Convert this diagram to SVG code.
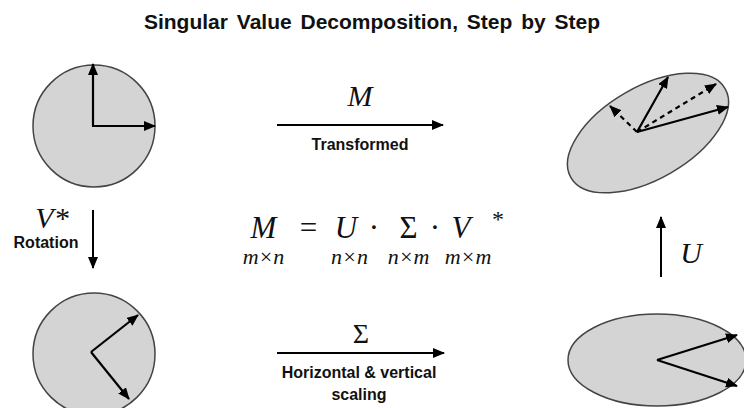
<svg xmlns="http://www.w3.org/2000/svg" width="744" height="408" viewBox="0 0 744 408">
<defs>
<marker id="ah" markerUnits="userSpaceOnUse" markerWidth="12" markerHeight="10" refX="11" refY="5" orient="auto">
<path d="M0,0 L12,5 L0,10 z" fill="#000"/>
</marker>
</defs>
<style>
.shape{fill:#d4d4d4;stroke:#444;stroke-width:1.5}
.vec{stroke:#000;stroke-width:2.2;fill:none;marker-end:url(#ah)}
.dash{stroke-dasharray:5,4}
.arr{stroke:#000;stroke-width:2;fill:none;marker-end:url(#ah)}
.lbl{font-family:"Liberation Sans",Arial,sans-serif;font-weight:bold;font-size:16px;fill:#111;text-anchor:middle}
.math{font-family:"Liberation Serif","Times New Roman",serif;font-style:italic;fill:#111;text-anchor:middle}
.up{font-family:"Liberation Serif","Times New Roman",serif;fill:#111;text-anchor:middle}
</style>
<rect width="744" height="408" fill="#fff"/>
<text x="372" y="29" font-family="'Liberation Sans',Arial,sans-serif" font-weight="bold" font-size="21" word-spacing="3" fill="#111" text-anchor="middle">Singular Value Decomposition, Step by Step</text>

<g id="circle-top">
<circle class="shape" cx="94" cy="126" r="61"/>
<line class="vec" x1="93" y1="126" x2="93" y2="64"/>
<line class="vec" x1="92" y1="126" x2="155" y2="126"/>
</g>

<g id="circle-bottom">
<circle class="shape" cx="94" cy="354" r="61"/>
<line class="vec" x1="91" y1="352" x2="138" y2="315"/>
<line class="vec" x1="91" y1="352" x2="129" y2="399"/>
</g>

<g id="ellipse-top">
<ellipse class="shape" cx="648" cy="133" rx="89" ry="46" transform="rotate(-30 648 133)"/>
<line class="vec dash" x1="637" y1="132" x2="610" y2="106"/>
<line class="vec dash" x1="637" y1="132" x2="716" y2="84"/>
<line class="vec" x1="637" y1="132" x2="668" y2="77"/>
<line class="vec" x1="637" y1="132" x2="728" y2="107"/>
</g>

<g id="ellipse-bottom">
<ellipse class="shape" cx="657" cy="360" rx="89" ry="46"/>
<line class="vec" x1="657" y1="360" x2="737" y2="335"/>
<line class="vec" x1="657" y1="360" x2="737" y2="386"/>
</g>

<g id="connectors">
<line class="arr" x1="277" y1="125" x2="443" y2="125"/>
<line class="arr" x1="277" y1="353" x2="444" y2="353"/>
<line class="arr" x1="93" y1="210" x2="93" y2="268"/>
<line class="arr" x1="661" y1="277" x2="661" y2="217"/>
</g>

<g id="labels">
<text class="math" x="360" y="106" font-size="30">M</text>
<text class="lbl" x="360" y="150">Transformed</text>
<text class="up" x="361" y="343" font-size="28">Σ</text>
<text class="lbl" x="359" y="378">Horizontal &amp; vertical</text>
<text class="lbl" x="359" y="400">scaling</text>
<text class="math" x="52" y="228" font-size="30">V*</text>
<text class="lbl" x="46" y="248">Rotation</text>
<text class="math" x="691" y="263" font-size="30">U</text>
</g>

<g id="equation">
<text class="math" x="263.5" y="238" font-size="31">M</text>
<text class="up" x="308.5" y="238" font-size="31">=</text>
<text class="math" x="346" y="238" font-size="31">U</text>
<text class="up" x="374" y="238" font-size="31">·</text>
<text class="up" x="408.5" y="238" font-size="31">Σ</text>
<text class="up" x="435" y="238" font-size="31">·</text>
<text class="math" x="461" y="238" font-size="31">V</text>
<text class="up" x="498" y="227" font-size="24">*</text>
<text class="math" x="263.5" y="264" font-size="22">m×n</text>
<text class="math" x="349.5" y="264" font-size="22">n×n</text>
<text class="math" x="408.5" y="264" font-size="22">n×m</text>
<text class="math" x="468" y="264" font-size="22">m×m</text>
</g>
</svg>
